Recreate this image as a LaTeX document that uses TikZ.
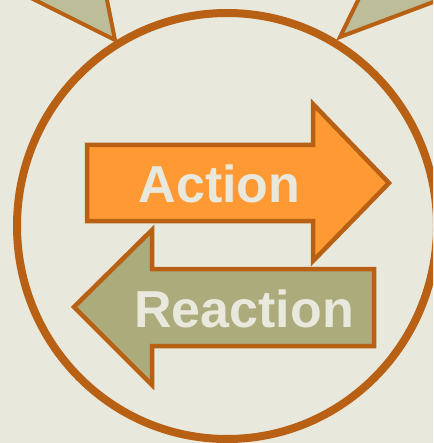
\documentclass[tikz,border=0pt]{standalone}
\usepackage{fontspec}
\setmainfont{Liberation Sans}
\definecolor{bg}{HTML}{E8E8DC}
\definecolor{rust}{HTML}{B86014}
\definecolor{actfill}{HTML}{FF9933}
\definecolor{reafill}{HTML}{ABAB7B}
\definecolor{trifill}{HTML}{BDBD99}
\definecolor{txt}{HTML}{E8E8DC}
\tikzset{
  ring/.style={draw=rust, line width=8pt},
  pointer/.style={draw=rust, fill=trifill, line width=4pt, line join=miter},
  actarrow/.style={draw=rust, fill=actfill, line width=4.5pt, line join=miter},
  reaarrow/.style={draw=rust, fill=reafill, line width=4.5pt, line join=miter},
  label/.style={text=txt, font=\fontsize{52}{52}\selectfont\bfseries, inner sep=0pt, anchor=base}
}
\begin{document}
\begin{tikzpicture}[x=1pt, y=-1pt]
\useasboundingbox (0,0) rectangle (433,443);
\fill[bg] (0,0) rectangle (433,443);
\clip (0,0) rectangle (433,443);
% pointers at top
\draw[pointer] (115,40) -- (103,-20) -- (-5,-20) -- cycle;
\draw[pointer] (340,37) -- (368,-20) -- (492,-20) -- cycle;
% ring
\draw[ring] (227,226) ellipse [x radius=210, y radius=213];
% action arrow
\draw[actarrow] (87,145) -- (313,145) -- (313,104) -- (389,183) -- (313,261) -- (313,221) -- (87,221) -- cycle;
% reaction arrow
\draw[reaarrow] (374,269) -- (152,269) -- (152,230) -- (74,307) -- (152,385) -- (152,346) -- (374,346) -- cycle;
\node[label] (action) at (219.5,203) {Action};
\node[label] (reaction) at (244,327) {Reaction};
\end{tikzpicture}
\end{document}
